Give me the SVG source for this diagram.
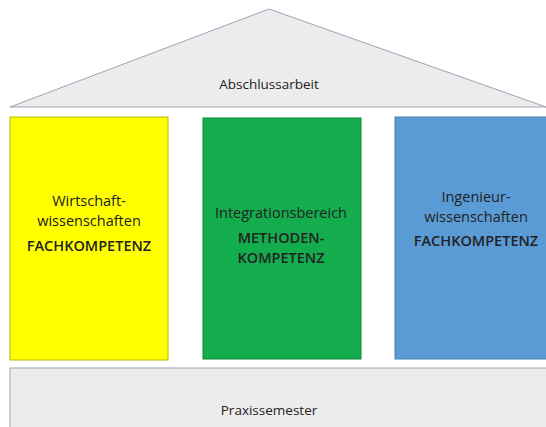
<svg xmlns="http://www.w3.org/2000/svg" width="546" height="427" viewBox="0 0 546 427">
<style>
text{font-family:"Open Sans","Noto Sans","Liberation Sans",sans-serif;fill:#222222;text-anchor:middle}
.r{font-size:13.5px}
.c{font-size:14.5px}
.b{font-size:14.5px;font-weight:600}
</style>
<rect width="546" height="427" fill="#ffffff"/>
<g id="roof">
<polygon points="269,9 10,107 546,107" fill="#ececec" stroke="#9aa3b5" stroke-width="1"/>
<text x="269" y="89" class="r">Abschlussarbeit</text>
</g>
<g id="wirtschaft">
<rect x="10" y="117" width="158" height="243" fill="#ffff00" stroke="#b8b800" stroke-width="1"/>
<text x="89" y="206" class="c">Wirtschaft-</text>
<text x="89" y="226" class="c">wissenschaften</text>
<text x="89" y="251" class="b">FACHKOMPETENZ</text>
</g>
<g id="integration">
<rect x="203" y="118" width="158" height="241" fill="#13ad4e" stroke="#0f8a3e" stroke-width="1"/>
<text x="281" y="218" class="c">Integrationsbereich</text>
<text x="281" y="243" class="b">METHODEN-</text>
<text x="281" y="263" class="b">KOMPETENZ</text>
</g>
<g id="ingenieur">
<rect x="395" y="117" width="160" height="242" fill="#5b9bd5" stroke="#4a7fb0" stroke-width="1"/>
<text x="476" y="202" class="c">Ingenieur-</text>
<text x="476" y="222" class="c">wissenschaften</text>
<text x="476" y="246" class="b">FACHKOMPETENZ</text>
</g>
<g id="praxis">
<rect x="10" y="368" width="545" height="70" fill="#ececec" stroke="#9aa3b5" stroke-width="1"/>
<text x="269" y="415" class="r">Praxissemester</text>
</g>
<g id="connectors"></g>
</svg>
